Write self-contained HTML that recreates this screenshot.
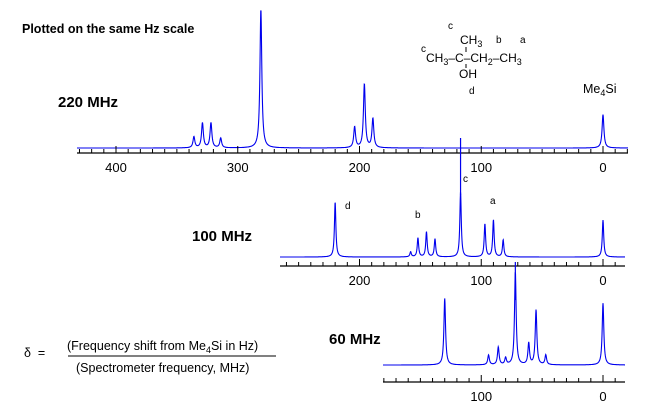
<!DOCTYPE html>
<html><head><meta charset="utf-8"><style>
body{margin:0;background:#fff;}
svg{display:block;font-family:"Liberation Sans",Arial,sans-serif;}
</style></head><body>
<svg id="c" width="652" height="401" viewBox="0 0 652 401">
<text x="22" y="33" font-size="12.5" font-weight="bold">Plotted on the same Hz scale</text>
<text x="58" y="107" font-size="15" font-weight="bold">220 MHz</text>
<text x="192" y="241" font-size="15" font-weight="bold">100 MHz</text>
<text x="329" y="344" font-size="15" font-weight="bold">60 MHz</text>
<g font-size="12">
<text x="448" y="29" font-size="10">c</text>
<text x="460" y="44">CH<tspan font-size="9" dy="3">3</tspan></text>
<text x="496" y="43" font-size="10">b</text>
<text x="520" y="43" font-size="10">a</text>
<text x="421" y="52" font-size="10">c</text>
<text x="426" y="62">CH<tspan font-size="9" dy="3">3</tspan><tspan dy="-3">–C–CH</tspan><tspan font-size="9" dy="3">2</tspan><tspan dy="-3">–CH</tspan><tspan font-size="9" dy="3">3</tspan></text>
<line x1="466" y1="47" x2="466" y2="52" stroke="#000" stroke-width="1"/>
<line x1="466" y1="64" x2="466" y2="68" stroke="#000" stroke-width="1"/>
<text x="459" y="78">OH</text>
<text x="469" y="94" font-size="10">d</text>
</g>
<text x="583" y="93" font-size="12.5">Me<tspan font-size="9" dy="3">4</tspan><tspan dy="-3">Si</tspan></text>
<text x="345" y="209" font-size="10">d</text>
<text x="415" y="218" font-size="10">b</text>
<text x="463" y="182" font-size="10">c</text>
<text x="490" y="204" font-size="10">a</text>
<g font-size="12.5">
<text x="24" y="357">δ&#160; =</text>
<text x="67" y="350">(Frequency shift from Me<tspan font-size="9" dy="3">4</tspan><tspan dy="-3">Si in Hz)</tspan></text>
<line x1="68" y1="356" x2="276" y2="356" stroke="#000" stroke-width="1"/>
<text x="76" y="372">(Spectrometer frequency, MHz)</text>
</g>
<g id="plots"></g>
</svg>
<script>
// peak data: chemical shift positions in Hz, relative intensities
const hz220 = [336, 329, 322, 314, 281, 204, 196, 189, 0];
const int220 = [0.08, 0.18, 0.18, 0.07, 1.0, 0.15, 0.46, 0.21, 0.24];
const hz100 = [220, 158, 152, 145, 138, 117, 97, 90, 82, 0];
const int100 = [0.55, 0.05, 0.19, 0.25, 0.18, 0.65, 0.33, 0.37, 0.17, 0.37];
const hz60 = [130, 94, 86, 80, 72, 61, 55, 47, 0];
const int60 = [0.68, 0.1, 0.18, 0.07, 0.95, 0.22, 0.56, 0.1, 0.63];
const ticks220 = [400, 300, 200, 100, 0];
const ticks100 = [200, 100, 0];
const ticks60 = [100, 0];

const NS='http://www.w3.org/2000/svg';
const g=document.getElementById('plots');
const PX=1.2175, X0=603;
function xs(hz){return X0-hz*PX;}
function mk(t,a){const e=document.createElementNS(NS,t);for(const k in a)e.setAttribute(k,a[k]);g.appendChild(e);return e;}

function panel(id,hz,ints,ticks,xmin,xmax,base,axisY,scale,w){
  const hi=(X0-xmin)/PX;
  let d='';
  for(let x=xmin;x<=xmax;x+=0.25){
    const h=(X0-x)/PX;let y=0;
    for(let i=0;i<hz.length;i++){const dd=(h-hz[i])/w;y+=ints[i]/(1+dd*dd);}
    d+=(d?'L':'M')+x.toFixed(2)+' '+(base-y*scale).toFixed(1);
  }
  const p=mk('path',{d:d,fill:'none',stroke:'#0000ee','stroke-width':1.1});
  
  
  const ax=mk('line',{x1:xmin,y1:axisY,x2:xmax,y2:axisY,stroke:'#000','stroke-width':1.3});
  
  
  for(let v=-20; v<=hi; v+=10){
    const x=xs(v); if(x<xmin||x>xmax) continue;
    const big=v%100===0;
    mk('line',{x1:x,y1:axisY,x2:x,y2:axisY-(big?7:4),stroke:'#000','stroke-width':1});
  }
  ticks.forEach(v=>{
    const t=mk('text',{x:xs(v),y:axisY+19,'text-anchor':'middle','font-size':13});
    t.textContent=v;
    
    
  });
}
panel('spectrum-220',hz220,int220,ticks220,77,628,148,153,139,0.9);
panel('spectrum-100',hz100,int100,ticks100,280,625,257,266,100,0.7);
panel('spectrum-60',hz60,int60,ticks60,383,625,365,382,98,0.8);
// c peak line at 100 MHz extends up across upper axis
const cl=mk('line',{x1:xs(117),y1:138,x2:xs(117),y2:195,stroke:'#0000ee','stroke-width':1.2});


const cl2=mk('line',{x1:xs(72),y1:262,x2:xs(72),y2:300,stroke:'#0000ee','stroke-width':1.2});


</script>
</body></html>
